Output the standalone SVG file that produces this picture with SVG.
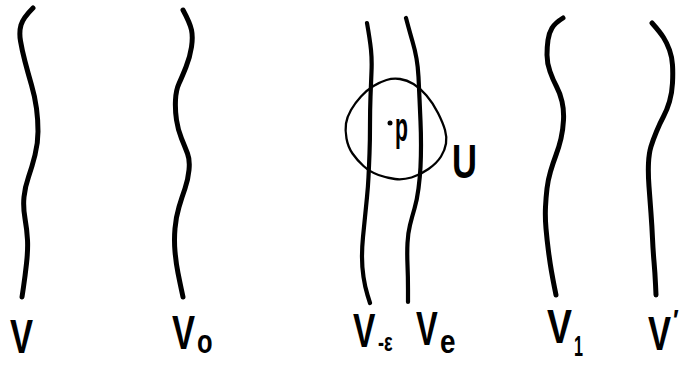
<svg xmlns="http://www.w3.org/2000/svg" width="683" height="367" viewBox="0 0 683 367">
<style>
.c{fill:none;stroke:#000;stroke-width:5;stroke-linecap:round;stroke-linejoin:round}
.m{fill:none;stroke:#000;stroke-width:4.2;stroke-linecap:round;stroke-linejoin:round}
.o{fill:none;stroke:#000;stroke-width:2.3;stroke-linejoin:round}
text{font-family:"Liberation Sans",Arial,sans-serif;fill:#000;font-weight:bold}
.L{font-size:48px}
</style>
<rect width="683" height="367" fill="#fff"/>
<g id="V">
<path class="c" d="M33,8 Q23,18 21,25 Q19,32 20.5,41 Q22,50 25,61.5 Q28,73 31.5,85 Q35,97 36.5,108.5 Q38,120 38,131.5 Q38,143 35,155 Q32,167 28.5,177 Q25,187 24,197 Q23,207 25,218.5 Q27,230 27.5,240 Q28,250 26.5,263.5 Q25,277 23.5,287 L22,297"/>
<text class="L" transform="translate(10,353) scale(0.72,1)">V</text>
</g>
<g id="V0">
<path class="c" d="M183,10 Q190,23 191.5,30 Q193,37 191.5,47 Q190,57 186,67 Q182,77 179,83.5 Q176,90 175.5,100 Q175,110 176.5,120 Q178,130 181.5,138.5 Q185,147 187.5,153.5 Q190,160 189,170 Q188,180 185,188.5 Q182,197 179,207 Q176,217 175,228.5 Q174,240 175,251.5 Q176,263 178,273 Q180,283 181.5,290 L183,297"/>
<text class="L" transform="translate(172,349) scale(0.72,1)">V</text>
<text font-size="34" transform="translate(197,353) scale(0.75,1)">o</text>
</g>
<g id="Vminus">
<path class="m" d="M367,23 Q370,40 371,50 Q372,60 371.5,71.5 Q371,83 370.5,96.5 Q370,110 370,125 Q370,140 369.5,153.5 Q369,167 368.5,177 Q368,187 367,197 Q366,207 365,217 Q364,227 363,237 Q362,247 362,257 Q362,267 363.5,277 Q365,287 367.5,295 L370,303"/>
<text class="L" transform="translate(353,347) scale(0.7,1)">V</text>
<text font-size="26" transform="translate(378,351) scale(0.7,1)">-ε</text>
</g>
<g id="Ve">
<path class="m" d="M406,18 Q410,33 412.5,41.5 Q415,50 416.5,58.5 Q418,67 418.5,77 Q419,87 419.5,98.5 Q420,110 420.5,121.5 Q421,133 421,145 Q421,157 420.5,167 Q420,177 418.5,188.5 Q417,200 414.5,208.5 Q412,217 410,225 Q408,233 407.5,243 Q407,253 407.5,265 Q408,277 408,289.5 L408,302"/>
<text class="L" transform="translate(416,345) scale(0.68,1)">V</text>
<text font-size="34" transform="translate(440,353) scale(0.82,1)">e</text>
</g>
<g id="U">
<path class="o" d="M351,110 Q347,117 346,123.5 Q345,130 346.5,138.5 Q348,147 352.5,153.5 Q357,160 363.5,166 Q370,172 378.5,175 Q387,178 395,179 Q403,180 411.5,177.5 Q420,175 428.5,169 Q437,163 441,156.5 Q445,150 446,143.5 Q447,137 445,130 Q443,123 438,113 Q433,103 426.5,95.5 Q420,88 413.5,84 Q407,80 400,79 Q393,78 386.5,80 Q380,82 373.5,86 Q367,90 361,96.5 Q355,103 351,110 Z"/>
<text class="L" transform="translate(452,178) scale(0.72,1)">U</text>
</g>
<g id="p">
<circle cx="390" cy="123" r="2.5" fill="#000"/>
<text font-size="40" transform="translate(395,141) scale(0.53,1)">p</text>
</g>
<g id="V1">
<path class="c" d="M563,18 Q555,23 552,28 Q549,33 548,40 Q547,47 547,55 Q547,63 550,71.5 Q553,80 556.5,86.5 Q560,93 562,101.5 Q564,110 563.5,120 Q563,130 561,138.5 Q559,147 556,155 Q553,163 550.5,171.5 Q548,180 547,188.5 Q546,197 545.5,207 Q545,217 546,228.5 Q547,240 548.5,251.5 Q550,263 551.5,271.5 Q553,280 554.5,287.5 L556,295"/>
<text class="L" transform="translate(547,343) scale(0.78,1)">V</text>
<text font-size="30" transform="translate(574,356) scale(0.54,1)">1</text>
</g>
<g id="Vprime">
<path class="c" d="M652,23 Q660,32 663.5,37.5 Q667,43 669.5,50 Q672,57 672.5,65 Q673,73 672.5,83 Q672,93 669.5,101.5 Q667,110 663.5,116.5 Q660,123 656.5,131.5 Q653,140 651,146.5 Q649,153 648.5,163 Q648,173 649,186.5 Q650,200 651,213.5 Q652,227 652.5,238.5 Q653,250 654,261.5 Q655,273 655.5,284 L656,295"/>
<text class="L" transform="translate(648,350) scale(0.72,1)">V</text>
<text font-size="30" transform="translate(673,330) scale(0.8,1)">′</text>
</g>
</svg>
